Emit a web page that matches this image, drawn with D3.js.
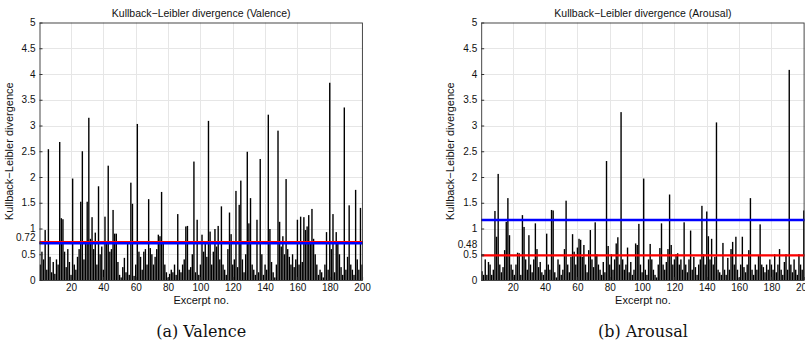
<!DOCTYPE html>
<html><head><meta charset="utf-8">
<script src="https://cdn.jsdelivr.net/npm/d3@7"></script>
<style>body{margin:0;background:#fff}svg{display:block}text{font-family:"Liberation Sans",Arial,sans-serif}</style>
</head><body>
<svg id="c" width="805" height="352"></svg>
<script>
const valence = [0.3,0.55,0.4,0.97,0.2,2.54,0.45,0.15,0.35,0.12,0.4,0.3,2.68,1.2,1.18,0.55,0.25,0.6,0.35,0.1,
1.97,0.3,0.2,0.45,0.6,1.52,2.5,0.4,0.7,1.52,3.15,0.8,1.22,0.6,0.92,0.3,1.82,0.5,0.65,0.2,
1.23,0.75,2.22,0.55,0.6,1.36,0.9,0.9,0.35,0.1,0.05,0.25,0.43,0.15,0.72,0.1,1.89,1.48,0.08,0.3,
3.03,0.55,0.45,0.2,0.55,0.6,0.3,1.57,0.62,0.5,0.3,0.45,0.6,0.88,0.85,1.71,0.7,0.3,0.15,0.05,
0.12,0.2,0.15,0.3,0.1,1.28,0.2,0.15,0.3,0.4,1.04,1.05,0.2,0.25,0.5,2.3,0.15,1.17,0.1,0.3,
0.88,0.55,0.7,0.45,3.09,0.94,0.3,0.55,0.99,0.65,1.05,0.4,1.43,0.3,0.2,0.1,0.6,1.31,0.89,0.3,
0.4,1.73,0.25,1.46,1.93,0.4,0.15,0.5,2.49,1.1,1.59,0.3,0.2,0.1,1.17,0.15,2.35,0.5,0.1,0.3,
0.2,3.21,0.99,0.35,0.15,0.05,0.3,2.9,1.13,0.65,0.85,0.5,1.96,0.6,0.45,0.3,0.5,0.25,0.4,1.17,
0.3,1.23,0.35,1.22,0.97,1.04,1.26,0.7,1.38,0.8,0.5,0.3,0.1,0.2,0.15,0.05,0.3,0.93,0.2,3.83,
0.6,1.28,0.15,0.93,0.75,0.5,0.25,0.1,3.35,0.2,0.45,1.45,0.3,0.2,0.1,1.75,0.4,0.2,1.4,0.3];
const arousal = [0.17,0.1,0.4,0.1,0.35,0.3,0.1,0.2,1.34,0.84,2.06,0.3,0.15,0.25,0.58,1.13,1.59,0.87,0.3,0.2,
0.1,0.3,0.53,0.52,0.1,1.26,1.03,0.4,0.2,0.87,0.3,0.15,0.4,1.1,0.6,0.25,0.35,0.15,0.1,0.2,
0.9,0.3,0.2,1.36,1.35,0.15,0.05,0.4,0.3,0.1,0.2,0.6,1.54,0.3,0.15,0.45,0.89,0.55,0.3,0.63,
0.8,0.78,0.45,0.68,0.3,0.15,0.58,0.97,0.4,0.25,1.12,0.5,0.3,0.2,0.1,0.35,0.15,2.31,0.66,0.3,
0.5,0.2,0.4,0.71,0.83,0.3,3.26,0.4,0.2,0.3,0.63,0.15,0.35,0.1,0.2,0.71,0.68,1.09,0.3,0.15,
1.97,0.2,0.1,0.4,0.7,0.4,0.2,0.1,0.05,0.3,0.62,1.1,0.3,0.2,0.35,0.6,1.66,0.68,0.3,0.4,
0.5,0.52,0.3,0.4,0.2,1.12,0.3,0.15,0.4,0.96,0.2,0.45,0.25,0.1,0.3,0.4,1.44,0.5,0.3,1.33,
0.85,0.4,0.8,0.3,0.45,3.06,0.2,0.15,0.1,0.72,0.2,0.1,0.43,0.2,0.6,0.74,0.3,0.84,0.2,0.05,
0.3,0.84,0.25,0.15,0.3,0.58,1.59,0.2,0.1,0.3,0.2,0.48,1.08,0.3,0.25,0.15,0.3,0.2,0.4,0.3,
0.2,0.5,0.15,0.3,0.6,0.2,0.1,0.35,0.5,0.2,4.08,0.3,0.15,0.4,0.2,0.1,0.5,0.3,0.2,1.35];
const xTicks = [20,40,60,80,100,120,140,160,180,200];
const yTicksBase = [0,0.5,1,1.5,2,2.5,3,3.5,4,4.5,5];
const valenceRed = 0.735, valenceBlue = 0.715;
const arousalRed = 0.48, arousalBlue = 1.165;
const titles = ["Kullback\u2212Leibler divergence (Valence)","Kullback\u2212Leibler divergence (Arousal)"];
const captions = ["(a)  Valence","(b)  Arousal"];
const yLabel = "Kullback\u2212Leibler divergence";
const xLabel = "Excerpt no.";

const svg = d3.select("#c");
const plotTop = 22.5, plotBottom = 280;

function panel(data, left, right, title, caption, red, blue, extraTick, idx){
  const x = d3.scaleLinear().domain([0.5,200.5]).range([left,right]);
  const y = d3.scaleLinear().domain([0,5]).range([plotBottom,plotTop]);
  const g = svg.append("g");
  const cid = "clip"+idx;
  g.append("clipPath").attr("id",cid).append("rect").attr("x",left).attr("y",plotTop).attr("width",right-left).attr("height",plotBottom-plotTop);
  g.selectAll(".gy").data(yTicksBase.slice(1,-1)).enter().append("line")
    .attr("x1",left).attr("x2",right).attr("y1",d=>Math.round(y(d))+0.5).attr("y2",d=>Math.round(y(d))+0.5)
    .attr("stroke","#e6e6e6").attr("stroke-width",1);
  g.selectAll(".gx").data(xTicks.slice(0,-1)).enter().append("line")
    .attr("y1",plotTop).attr("y2",plotBottom).attr("x1",d=>Math.round(x(d))+0.5).attr("x2",d=>Math.round(x(d))+0.5)
    .attr("stroke","#e6e6e6").attr("stroke-width",1);
  const bw = (x(2)-x(1))*0.86;
  g.append("g").attr("clip-path",`url(#${cid})`).selectAll("rect").data(data).enter().append("rect")
    .attr("x",(d,i)=>x(i+1)-bw/2).attr("width",bw)
    .attr("y",d=>y(d)).attr("height",d=>plotBottom-y(d)).attr("fill","#000");
  g.append("line").attr("x1",left).attr("x2",right).attr("y1",y(red)).attr("y2",y(red)).attr("stroke","#ff0000").attr("stroke-width",2.2);
  g.append("line").attr("x1",left).attr("x2",right).attr("y1",y(blue)).attr("y2",y(blue)).attr("stroke","#0000ff").attr("stroke-width",2.4);
  g.append("rect").attr("x",left+0.5).attr("y",plotTop+0.5).attr("width",right-left-1).attr("height",plotBottom-plotTop).attr("fill","none").attr("stroke","#333").attr("stroke-width",0.9);
  const yt = yTicksBase.concat([extraTick]).sort((a,b)=>a-b);
  const ya = d3.axisLeft(y).tickValues(yt).tickSizeInner(-3).tickSizeOuter(0).tickPadding(4)
    .tickFormat(d=>d===extraTick?String(extraTick):d3.format("~g")(d));
  const yg = g.append("g").attr("transform",`translate(${left},0)`).call(ya);
  yg.select(".domain").remove();
  yg.selectAll("line").attr("stroke","#333");
  yg.selectAll("text").attr("font-size",10).attr("fill","#111")
    .attr("dy",d=>{ if(d===extraTick){return d<0.5?"-0.75em":"-0.25em";} return "0.32em";});
  const xa = d3.axisBottom(x).tickValues(xTicks).tickSizeInner(-3).tickSizeOuter(0).tickPadding(4).tickFormat(d3.format("d"));
  const xg = g.append("g").attr("transform",`translate(0,${plotBottom})`).call(xa);
  xg.select(".domain").remove();
  xg.selectAll("line").attr("stroke","#333");
  xg.selectAll("text").attr("font-size",10).attr("fill","#111");
  const cx = (left+right)/2;
  g.append("text").attr("x",cx).attr("y",17).attr("text-anchor","middle").attr("font-size",10.5).attr("fill","#111").text(title);
  g.append("text").attr("x",cx).attr("y",304).attr("text-anchor","middle").attr("font-size",11).attr("fill","#111").text(xLabel);
  g.append("text").attr("transform",`translate(${left-27},${(plotTop+plotBottom)/2}) rotate(-90)`).attr("text-anchor","middle").attr("font-size",11).attr("fill","#111").text(yLabel);
  g.append("text").attr("x",cx).attr("y",337).attr("text-anchor","middle").attr("font-size",16).attr("fill","#111")
    .style("font-family","'DejaVu Serif','Liberation Serif',serif").text(caption);
}
panel(valence, 39.5, 362.9, titles[0], captions[0], valenceRed, valenceBlue, 0.72, 0);
panel(arousal, 481.2, 804.6, titles[1], captions[1], arousalRed, arousalBlue, 0.48, 1);
</script>
</body></html>
